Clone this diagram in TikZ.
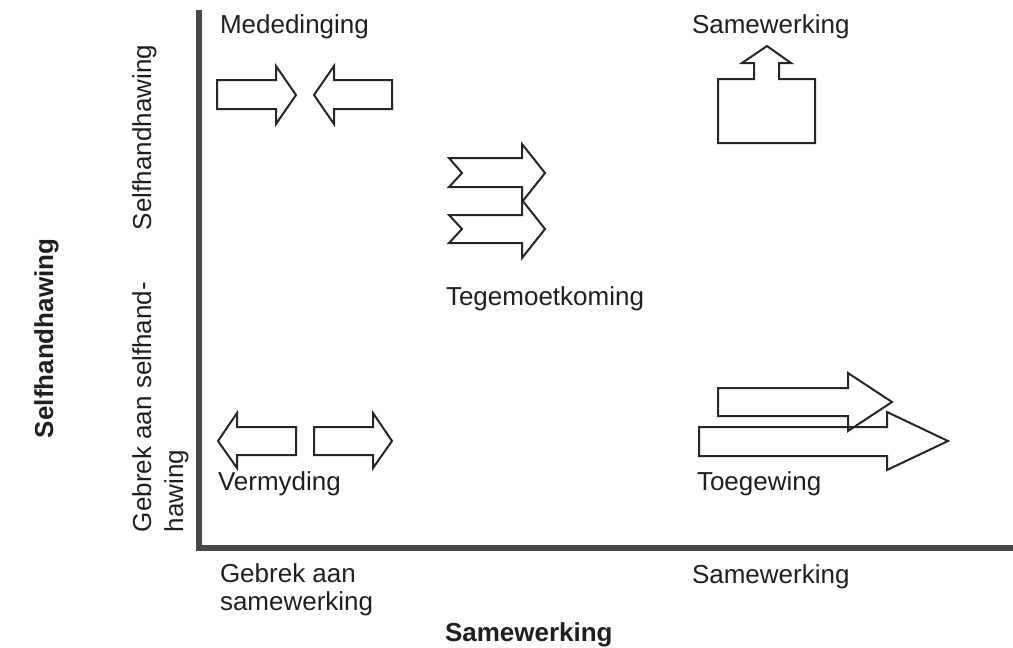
\documentclass[tikz,border=0pt]{standalone}
\usepackage{fontspec}
\setmainfont{Liberation Sans}
\begin{document}
\begin{tikzpicture}[x=0.75pt,y=-0.75pt,
  font=\fontsize{19.5}{23}\selectfont,
  outl/.style={draw=black!85, line width=1.5pt, line join=miter},
  axisline/.style={draw=black!72, line width=5pt},
  lab/.style={anchor=base west, inner sep=0pt, outer sep=0pt, text=black!88},
  rlab/.style={anchor=base west, inner sep=0pt, outer sep=0pt, text=black!88, rotate=90, align=left}]
\useasboundingbox (0,0) rectangle (1013,647);
% axes
\coordinate (top) at (199,10);
\coordinate (corner) at (199,548);
\coordinate (right) at (1013,548);
\draw[axisline, line join=miter] (top) -- (corner) -- (right);
% Mededinging arrows
\draw[outl] (217,80) -- (276,80) -- (276,66) -- (296,95) -- (276,124) -- (276,109) -- (217,109) -- cycle;
\draw[outl] (392,80) -- (334,80) -- (334,66) -- (314,95) -- (334,124) -- (334,109) -- (392,109) -- cycle;
% Tegemoetkoming arrows
\draw[outl] (449,158) -- (522,158) -- (522,144) -- (545,173) -- (522,202) -- (522,187) -- (449,187) -- (462,173) -- cycle;
\draw[outl] (449,215) -- (522,215) -- (522,200) -- (545,229) -- (522,258) -- (522,243) -- (449,243) -- (462,229) -- cycle;
% Samewerking up arrow
\draw[outl] (718,143) -- (718,79) -- (754,79) -- (754,63) -- (742,63) -- (767,46) -- (791,63) -- (779,63) -- (779,79) -- (815,79) -- (815,143) -- cycle;
% Toegewing arrows
\draw[outl] (718,388) -- (848,388) -- (848,373) -- (892,402) -- (848,431) -- (848,416) -- (718,416) -- cycle;
\draw[outl] (699,427) -- (887,427) -- (887,412) -- (948,441) -- (887,470) -- (887,456) -- (699,456) -- cycle;
% Vermyding arrows
\draw[outl] (296,427) -- (237,427) -- (237,413) -- (218,441) -- (237,468) -- (237,455) -- (296,455) -- cycle;
\draw[outl] (314,427) -- (373,427) -- (373,413) -- (392,441) -- (373,468) -- (373,455) -- (314,455) -- cycle;
% labels
\node[lab] (med) at (220,33) {Mededinging};
\node[lab] (samtop) at (692,33) {Samewerking};
\node[lab] (teg) at (446,305) {Tegemoetkoming};
\node[lab] (verm) at (218,490) {Vermyding};
\node[lab] (toeg) at (697,490) {Toegewing};
\node[lab, align=left, font=\fontsize{19.5}{20.3}\selectfont] (gebsam) at (220,610) {Gebrek aan\\samewerking};
\node[lab] (samright) at (692,583) {Samewerking};
\node[lab, font=\fontsize{19.5}{23}\selectfont\bfseries] (xtitle) at (445,641) {Samewerking};
\node[rlab] (selfr) at (151,230) {Selfhandhawing};
\node[rlab, font=\fontsize{19.5}{24}\selectfont] (gebself) at (183,532) {Gebrek aan selfhand-\\hawing};
\node[rlab, font=\fontsize{19.5}{23}\selectfont\bfseries] (ytitle) at (53,438) {Selfhandhawing};
\end{tikzpicture}
\end{document}
